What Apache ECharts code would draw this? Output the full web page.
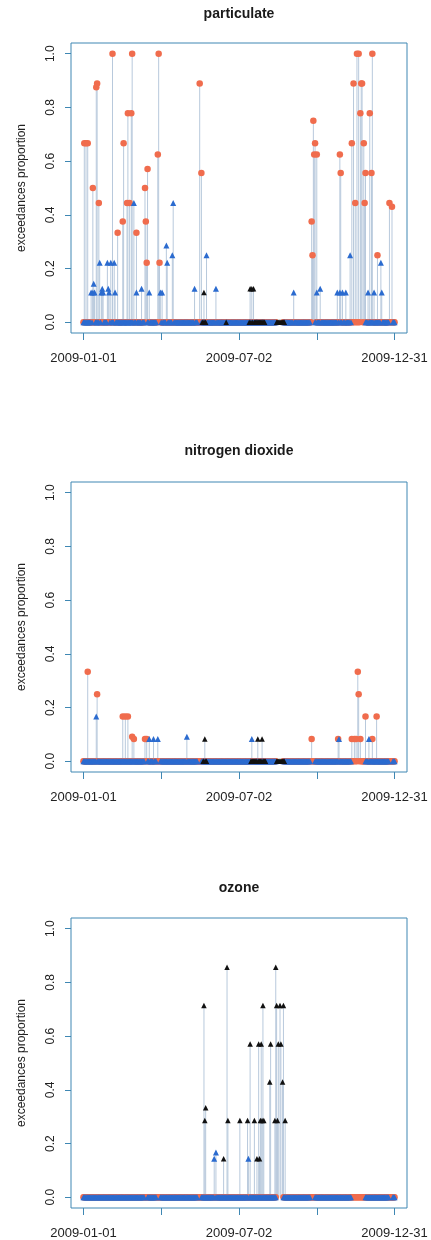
<!DOCTYPE html>
<html><head><meta charset="utf-8">
<script src="https://cdn.jsdelivr.net/npm/echarts@6/dist/echarts.min.js"></script>
<style>html,body{margin:0;padding:0;background:#fff}#c{width:431px;height:1240px}</style>
</head><body><div id="c"></div>
<script>
// ---- axis / labels ----
const panelTitles = ['particulate', 'nitrogen dioxide', 'ozone'];
const xTickDays = [0, 91, 182, 273, 364];
const xLabelDays = [0, 182, 364];
const xLabelTexts = ['2009-01-01', '2009-07-02', '2009-12-31'];
const yTickValues = [0, 0.2, 0.4, 0.6, 0.8, 1.0];
const yTickLabels = ['0.0', '0.2', '0.4', '0.6', '0.8', '1.0'];
const nDays = 365;

// ---- particulate: non-zero daily exceedance proportions [day, value] ----
const pmRed = [[1,0.667],[3,0.667],[5,0.667],[11,0.5],[15,0.875],[16,0.889],[18,0.444],
  [34,1.0],[40,0.333],[46,0.375],[47,0.667],[51,0.444],[52,0.778],[54,0.444],[56,0.778],[57,1.0],
  [62,0.333],[72,0.5],[73,0.375],[74,0.222],[75,0.571],[87,0.625],[88,1.0],[89,0.222],
  [136,0.889],[138,0.556],
  [267,0.375],[268,0.25],[269,0.75],[270,0.625],[271,0.667],[273,0.625],
  [300,0.625],[301,0.556],[314,0.667],[316,0.889],[318,0.444],[320,1.0],[322,1.0],
  [324,0.778],[325,0.889],[326,0.889],[328,0.667],[329,0.444],[330,0.556],[335,0.778],
  [337,0.556],[338,1.0],[344,0.25],[358,0.444],[361,0.43]];
const pmBlue = [[9,0.111],[11,0.111],[12,0.143],[13,0.111],[19,0.222],[21,0.111],[22,0.125],[23,0.111],
  [28,0.222],[29,0.125],[30,0.111],[32,0.222],[36,0.222],[37,0.111],[59,0.444],[62,0.111],[68,0.125],
  [77,0.111],[90,0.111],[92,0.111],[97,0.286],[98,0.222],[104,0.25],[105,0.444],[130,0.125],
  [144,0.25],[155,0.125],[246,0.111],[273,0.111],[277,0.125],[297,0.111],[300,0.111],[303,0.111],
  [307,0.111],[312,0.25],[333,0.111],[340,0.111],[348,0.222],[349,0.111]];
const pmBlack = [[141,0.111],[195,0.125],[197,0.125],[199,0.125]];

// ---- nitrogen dioxide ----
const no2Red = [[5,0.333],[16,0.25],[46,0.167],[49,0.167],[52,0.167],[57,0.091],[59,0.083],
  [72,0.083],[74,0.083],[267,0.083],[298,0.083],[314,0.083],[317,0.083],[319,0.083],
  [321,0.333],[322,0.25],[324,0.083],[330,0.167],[338,0.083],[343,0.167]];
const no2Blue = [[15,0.167],[77,0.083],[82,0.083],[87,0.083],[121,0.091],[197,0.083],[299,0.083],[334,0.083]];
const no2Black = [[142,0.083],[204,0.083],[209,0.083]];

// ---- ozone ----
const o3Red = [];
const o3Blue = [[153,0.143],[155,0.167],[193,0.143]];
const o3Black = [[141,0.714],[142,0.286],[143,0.333],[164,0.143],[168,0.857],[169,0.286],
  [183,0.286],[192,0.286],[195,0.571],[200,0.286],[203,0.143],[205,0.571],[206,0.143],[207,0.286],
  [208,0.571],[209,0.286],[210,0.714],[211,0.286],[218,0.429],[219,0.571],[224,0.286],[225,0.857],
  [226,0.714],[227,0.286],[228,0.571],[230,0.714],[231,0.571],[233,0.429],[234,0.714],[236,0.286]];

// ---- days without a reported value (no marker at zero) ----
const blueMissing = [[72,74],[86,89],[134,137],[226,233],[266,270],[314,329],[358,361]];
const redMissing = [[226,233]];
// day ranges where the black group reports (zero unless listed above)
const pmBlackZero = [[139,143],[167,167],[194,212],[226,235]];
const no2BlackZero = [[140,144],[196,213],[226,235]];
const o3BlackZero = [];

// ---- build ----
function inRanges(d, ranges) { return ranges.some(r => d >= r[0] && d <= r[1]); }
function markers(nonzero, hasZero) {
  const m = new Map(nonzero.map(p => [p[0], p[1]]));
  const out = [];
  for (let d = 0; d < nDays; d++) {
    if (m.has(d)) out.push([d, m.get(d)]);
    else if (hasZero(d)) out.push([d, 0]);
  }
  return out;
}
const panels = [
  {red: pmRed, blue: pmBlue, black: pmBlack, blackZero: pmBlackZero},
  {red: no2Red, blue: no2Blue, black: no2Black, blackZero: no2BlackZero},
  {red: o3Red, blue: o3Blue, black: o3Black, blackZero: o3BlackZero}
];
const boxTops = [43, 482, 918];
const titleTops = [7, 444, 881];
const RED = '#f06c4d', BLUE = '#2b6bcf', BLACK = '#111111', STEM = '#b8c9dc', BOX = '#3f87b3';
const FONT = 'Liberation Sans, Arial, sans-serif';

const grids = [], xAxes = [], yAxes = [], series = [], titles = [];
panels.forEach((p, i) => {
  grids.push({left: 71, top: boxTops[i], width: 336, height: 290, show: true,
    borderColor: BOX, borderWidth: 1, backgroundColor: 'transparent'});
  titles.push({text: panelTitles[i], left: 239, top: titleTops[i], textAlign: 'center', padding: 0,
    textStyle: {fontFamily: FONT, fontSize: 14, fontWeight: 'bold', color: '#1a1a1a'}});
  xAxes.push({type: 'value', gridIndex: i, min: -14.56, max: 378.56,
    axisLine: {show: false, onZero: false}, splitLine: {show: false},
    axisTick: {show: true, inside: false, length: 7, customValues: xTickDays, lineStyle: {color: BOX}},
    axisLabel: {customValues: xLabelDays, margin: 19, fontFamily: FONT, fontSize: 13, color: '#222',
      formatter: v => xLabelTexts[xLabelDays.indexOf(Math.round(v))] || ''}});
  yAxes.push({type: 'value', gridIndex: i, min: -0.04, max: 1.04,
    name: 'exceedances proportion', nameLocation: 'middle', nameGap: 43, nameRotate: 90,
    nameTextStyle: {fontFamily: FONT, fontSize: 12, color: '#222'},
    axisLine: {show: false, onZero: false}, splitLine: {show: false},
    axisTick: {show: true, inside: false, length: 6, customValues: yTickValues, lineStyle: {color: BOX}},
    axisLabel: {customValues: yTickValues, rotate: 90, margin: 14, fontFamily: FONT, fontSize: 12, color: '#222',
      formatter: v => yTickLabels[yTickValues.findIndex(t => Math.abs(t - v) < 1e-6)] || ''}});
  const stems = [].concat(p.red, p.blue, p.black);
  series.push({type: 'bar', xAxisIndex: i, yAxisIndex: i, barWidth: 1, data: stems,
    itemStyle: {color: STEM}, z: 1, silent: true});
  series.push({type: 'scatter', xAxisIndex: i, yAxisIndex: i, symbol: 'circle', symbolSize: 6.5,
    data: markers(p.red, d => !inRanges(d, redMissing)), itemStyle: {color: RED, opacity: 1}, z: 2});
  series.push({type: 'scatter', xAxisIndex: i, yAxisIndex: i, symbol: 'triangle', symbolSize: 6,
    data: markers(p.blue, d => !inRanges(d, blueMissing)), itemStyle: {color: BLUE, opacity: 1}, z: 3});
  series.push({type: 'scatter', xAxisIndex: i, yAxisIndex: i, symbol: 'triangle', symbolSize: 5.5,
    data: markers(p.black, d => inRanges(d, p.blackZero)), itemStyle: {color: BLACK, opacity: 1}, z: 4});
});

const chart = echarts.init(document.getElementById('c'), null, {renderer: 'canvas'});
chart.setOption({animation: false, backgroundColor: '#fff', title: titles,
  grid: grids, xAxis: xAxes, yAxis: yAxes, series: series});
</script></body></html>
